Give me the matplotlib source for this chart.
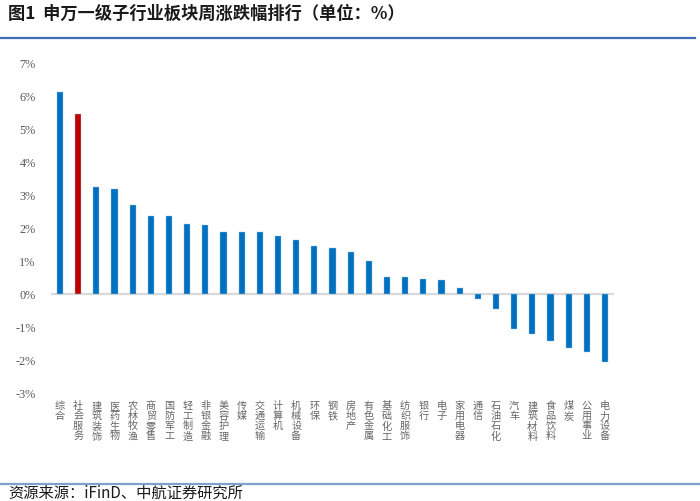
import matplotlib
matplotlib.use("Agg")
import matplotlib.pyplot as plt
from matplotlib.lines import Line2D

plt.rcParams['font.family'] = ['Noto Sans CJK SC', 'DejaVu Sans']

categories = ["综合", "社会服务", "建筑装饰", "医药生物", "农林牧渔", "商贸零售", "国防军工",
              "轻工制造", "非银金融", "美容护理", "传媒", "交通运输", "计算机", "机械设备",
              "环保", "钢铁", "房地产", "有色金属", "基础化工", "纺织服饰", "银行", "电子",
              "家用电器", "通信", "石油石化", "汽车", "建筑材料", "食品饮料", "煤炭",
              "公用事业", "电力设备"]
values = [6.14, 5.47, 3.25, 3.20, 2.72, 2.39, 2.37, 2.14, 2.12, 1.90, 1.88, 1.88, 1.77,
          1.65, 1.47, 1.41, 1.28, 1.01, 0.54, 0.54, 0.48, 0.44, 0.20, -0.13, -0.44,
          -1.06, -1.21, -1.42, -1.63, -1.75, -2.06]
highlight = "社会服务"
yticks = [-3, -2, -1, 0, 1, 2, 3, 4, 5, 6, 7]
ytick_labels = ["-3%", "-2%", "-1%", "0%", "1%", "2%", "3%", "4%", "5%", "6%", "7%"]
title = "图1  申万一级子行业板块周涨跌幅排行（单位：%）"
source = "资源来源：iFinD、中航证券研究所"

fig = plt.figure(figsize=(7.0, 5.01), dpi=100)
ax = fig.add_axes([51 / 700, 1 - 393 / 501, (614 - 51) / 700, (393 - 64) / 501])

x = list(range(len(categories)))
colors = ["#C00000" if c == highlight else "#0070C0" for c in categories]
ax.bar(x, values, width=0.34, color=colors, edgecolor="#9DC3E6", linewidth=0.3, zorder=3)
ax.axhline(0, color="#D9D9D9", linewidth=1.6, zorder=2)

ax.set_xlim(-0.5, len(categories) - 0.5)
ax.set_ylim(-3, 7)
for s in ax.spines.values():
    s.set_visible(False)
ax.set_yticks(yticks)
ax.set_yticklabels(ytick_labels, family=['Liberation Serif', 'DejaVu Serif'], fontsize=8.8, color="#595959")
ax.tick_params(axis='y', length=0, pad=11)
ax.set_xticks(x)
ax.set_xticklabels(["\n".join(c) for c in categories], fontsize=7.3, color="#666666")
for lab in ax.get_xticklabels():
    lab.set_linespacing(1.0)
ax.tick_params(axis='x', length=0, pad=6)

fig.text(8 / 700, 1 - 14 / 501, title, fontsize=12.4, fontweight='bold', color="#1a1a1a",
         ha='left', va='center')
fig.add_artist(Line2D([0, 695 / 700], [1 - 38 / 501, 1 - 38 / 501], transform=fig.transFigure,
                      color="#3F6FB5", linewidth=1.6))
fig.add_artist(Line2D([0, 1], [1 - 484 / 501, 1 - 484 / 501], transform=fig.transFigure,
                      color="#7F9FCC", linewidth=1.6))
fig.text(8 / 700, 1 - 493 / 501, source, fontsize=11, color="#1a1a1a", ha='left', va='center')

fig.savefig("out.png", dpi=100)
